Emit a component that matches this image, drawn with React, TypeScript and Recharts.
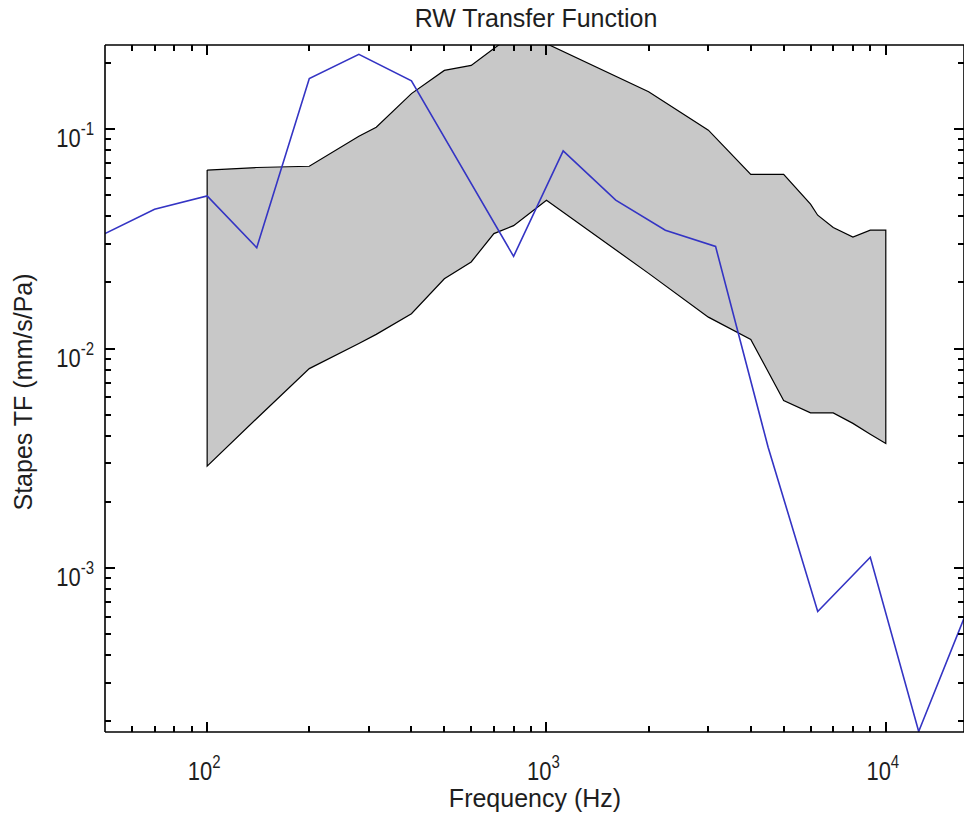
import React from 'react';
import { ComposedChart, XAxis, YAxis, Area, Line, ReferenceLine } from 'recharts';

// --- measured curve (blue) ---
const blueFreqs = [50, 70, 100, 140, 200, 280, 400, 800, 1120, 1600, 2240, 3150, 4500, 6300, 9000, 12500, 17000];
const blueValues = [0.0334, 0.0431, 0.0496, 0.0288, 0.17, 0.219, 0.166, 0.0263, 0.0795, 0.0474, 0.0346, 0.0292, 0.00355, 0.000634, 0.00112, 0.00018, 0.00059];

// --- normal range (grey band) ---
const bandFreqs = [100, 140, 200, 280, 315, 400, 500, 600, 700, 800, 1000, 2000, 3000, 4000, 5000, 6000, 6300, 7000, 8000, 9000, 10000];
const bandUpper = [0.065, 0.0668, 0.0677, 0.0927, 0.102, 0.145, 0.185, 0.195, 0.233, 0.27, 0.245, 0.148, 0.0988, 0.0622, 0.0622, 0.0455, 0.0405, 0.0356, 0.0322, 0.0346, 0.0346];
const bandLower = [0.00291, 0.0048, 0.0081, 0.01054, 0.0116, 0.0144, 0.0208, 0.0248, 0.0334, 0.0363, 0.0474, 0.022, 0.0139, 0.011, 0.0058, 0.00509, 0.00509, 0.00509, 0.00456, 0.00407, 0.00369];

// --- axes ---
const xDomain = [50, 17000];
const yDomain = [0.000179, 0.2415];
const xTickValues = [60, 70, 80, 90, 100, 200, 300, 400, 500, 600, 700, 800, 900, 1000, 2000, 3000, 4000, 5000, 6000, 7000, 8000, 9000, 10000];
const yTickValues = [
  0.0002, 0.0003, 0.0004, 0.0005, 0.0006, 0.0007, 0.0008, 0.0009,
  0.001, 0.002, 0.003, 0.004, 0.005, 0.006, 0.007, 0.008, 0.009,
  0.01, 0.02, 0.03, 0.04, 0.05, 0.06, 0.07, 0.08, 0.09,
  0.1, 0.2,
];
const xMajorTicks = [100, 1000, 10000];
const xMajorExps = ['2', '3', '4'];
const yMajorTicks = [0.001, 0.01, 0.1];
const yMajorExps = ['-3', '-2', '-1'];

const blueData = blueFreqs.map((f, i) => ({ f, v: blueValues[i] }));
const bandData = bandFreqs.map((f, i) => ({ f, range: [bandLower[i], bandUpper[i]] }));
// closed outline of the band: upper edge, then lower edge back
const outlineData = [
  ...bandFreqs.map((f, i) => ({ f, v: bandUpper[i] })),
  ...bandFreqs.map((f, i) => ({ f, v: bandLower[i] })).reverse(),
  { f: bandFreqs[0], v: bandUpper[0] },
];

const W = 964;
const H = 814;
const M = { top: 45, right: 0, bottom: 0, left: 0 };

const FONT = '"Liberation Sans", Arial, Helvetica, sans-serif';
const TEXT = '#1e1e1e';
const MAJOR_LEN = 10;
const MINOR_LEN = 6;
const TICK_W = 2;

const majorIdx = (list: number[], v: number) => list.findIndex(m => Math.abs(m - v) / m < 1e-6);

// axis labels only (10^n); the tick marks are drawn as reference-line shapes
const BottomLabel = (p: any) => {
  const k = majorIdx(xMajorTicks, p.payload.value);
  if (k < 0) return <g />;
  return (
    <text transform={`translate(${p.x - 3},${p.y + 48}) scale(1,1.2)`} textAnchor="middle" fontSize={22} fill={TEXT} fontFamily={FONT}>
      10<tspan dy={-10} fontSize={15}>{xMajorExps[k]}</tspan>
    </text>
  );
};

const LeftLabel = (p: any) => {
  const k = majorIdx(yMajorTicks, p.payload.value);
  if (k < 0) return <g />;
  return (
    <text transform={`translate(${p.x - 11},${p.y + 18}) scale(1,1.2)`} textAnchor="end" fontSize={22} fill={TEXT} fontFamily={FONT}>
      10<tspan dy={-10} fontSize={15}>{yMajorExps[k]}</tspan>
    </text>
  );
};

// inward tick marks at both ends of a full-height / full-width reference line
const XTickMarks = (p: any) => {
  const x = Math.round(p.x1);
  const top = Math.min(p.y1, p.y2);
  const bottom = Math.max(p.y1, p.y2);
  return (
    <g shapeRendering="crispEdges">
      <line x1={x} y1={bottom} x2={x} y2={bottom - p.len} stroke="#000" strokeWidth={TICK_W} />
      <line x1={x} y1={top} x2={x} y2={top + p.len} stroke="#000" strokeWidth={TICK_W} />
    </g>
  );
};

const YTickMarks = (p: any) => {
  const y = Math.round(p.y1);
  const left = Math.min(p.x1, p.x2);
  const right = Math.max(p.x1, p.x2);
  return (
    <g shapeRendering="crispEdges">
      <line x1={left} y1={y} x2={left + p.len} y2={y} stroke="#000" strokeWidth={TICK_W} />
      <line x1={right} y1={y} x2={right - p.len} y2={y} stroke="#000" strokeWidth={TICK_W} />
    </g>
  );
};

export default function App() {
  return (
    <div style={{ position: 'absolute', left: 0, top: 0, width: W, height: H, background: '#fff', fontFamily: FONT }}>
      <ComposedChart width={W} height={H} margin={M}>
        <XAxis
          dataKey="f" type="number" scale="log" domain={xDomain} allowDataOverflow
          ticks={xTickValues} interval={0} height={82} tickSize={0} tickMargin={0} tickLine={false}
          axisLine={{ stroke: '#000', strokeWidth: 1.6 }} tick={BottomLabel}
        />
        <YAxis
          type="number" scale="log" domain={yDomain} allowDataOverflow
          ticks={yTickValues} interval={0} width={105} tickSize={0} tickMargin={0} tickLine={false}
          axisLine={{ stroke: '#000', strokeWidth: 1.6 }} tick={LeftLabel}
        />
        <Area
          data={bandData} dataKey="range" type="linear"
          stroke="none" fill="#c8c8c8" fillOpacity={1} dot={false} activeDot={false} isAnimationActive={false}
        />
        <Line
          data={outlineData} dataKey="v" type="linear"
          stroke="#000" strokeWidth={1.2} dot={false} activeDot={false} isAnimationActive={false}
        />
        <Line
          data={blueData} dataKey="v" type="linear"
          stroke="#3434c4" strokeWidth={1.6} dot={false} activeDot={false} isAnimationActive={false}
        />
        {/* top and right edges of the axes box */}
        <ReferenceLine y={yDomain[1]} stroke="#000" strokeWidth={1.6} ifOverflow="visible" />
        <ReferenceLine x={xDomain[1]} stroke="#000" strokeWidth={1.6} ifOverflow="visible" />
        {xTickValues.map(v => (
          <ReferenceLine
            key={`xt-${v}`} x={v} ifOverflow="visible"
            shape={(p: any) => <XTickMarks {...p} len={majorIdx(xMajorTicks, v) >= 0 ? MAJOR_LEN : MINOR_LEN} />}
          />
        ))}
        {yTickValues.map(v => (
          <ReferenceLine
            key={`yt-${v}`} y={v} ifOverflow="visible"
            shape={(p: any) => <YTickMarks {...p} len={majorIdx(yMajorTicks, v) >= 0 ? MAJOR_LEN : MINOR_LEN} />}
          />
        ))}
      </ComposedChart>
      <svg width={W} height={H} style={{ position: 'absolute', left: 0, top: 0, pointerEvents: 'none' }}>
        <text x={536} y={27} textAnchor="middle" fontSize={25} fill={TEXT} fontFamily={FONT}>RW Transfer Function</text>
        <text x={535} y={807} textAnchor="middle" fontSize={25} fill={TEXT} fontFamily={FONT}>Frequency (Hz)</text>
        <text transform="translate(32,392) rotate(-90)" textAnchor="middle" fontSize={25} fill={TEXT} fontFamily={FONT}>Stapes TF (mm/s/Pa)</text>
      </svg>
    </div>
  );
}
